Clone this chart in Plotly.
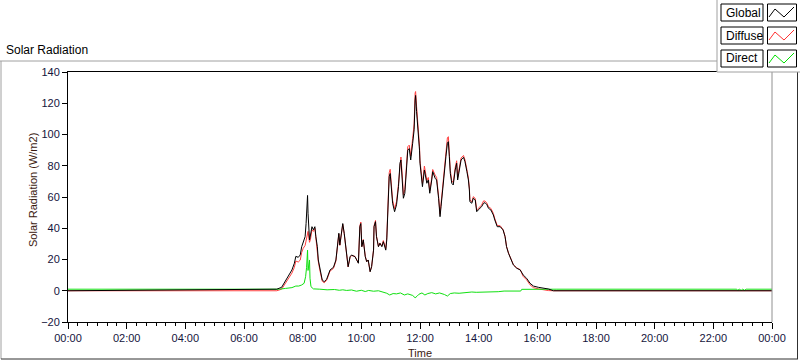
import plotly.graph_objects as go
from datetime import datetime, timedelta

# ---------------- data ----------------
global_times = ["00:00", "07:07", "07:17", "07:24", "07:31", "07:38", "07:43", "07:46", "07:51", "07:55",
                "07:58", "08:01", "08:05", "08:07", "08:09", "08:10", "08:11", "08:14", "08:16", "08:19",
                "08:22", "08:25", "08:27", "08:30", "08:32", "08:35", "08:40", "08:44", "08:49", "08:56",
                "09:03", "09:08", "09:12", "09:14", "09:16", "09:22", "09:25", "09:27", "09:30", "09:33",
                "09:37", "09:40", "09:47", "09:54", "09:57", "09:59", "10:01", "10:04", "10:08", "10:11",
                "10:14", "10:18", "10:21", "10:25", "10:26", "10:29", "10:31", "10:35", "10:38", "10:42",
                "10:45", "10:50", "10:52", "10:54", "10:57", "10:59", "11:02", "11:04", "11:08", "11:12",
                "11:16", "11:19", "11:21", "11:24", "11:26", "11:29", "11:33", "11:35", "11:38", "11:41",
                "11:45", "11:48", "11:50", "11:51", "11:53", "11:55", "11:57", "11:59", "12:00", "12:04",
                "12:05", "12:09", "12:12", "12:14", "12:17", "12:20", "12:24", "12:26", "12:31", "12:34",
                "12:38", "12:41", "12:43", "12:46", "12:50", "12:53", "12:56", "12:58", "13:00", "13:02",
                "13:05", "13:08", "13:12", "13:15", "13:17", "13:20", "13:24", "13:29", "13:32", "13:36",
                "13:39", "13:41", "13:42", "13:46", "13:49", "13:53", "13:56", "13:59", "14:03", "14:06",
                "14:10", "14:13", "14:17", "14:20", "14:25", "14:30", "14:33", "14:38", "14:44", "14:47",
                "14:50", "14:54", "14:57", "15:01", "15:05", "15:11", "15:18", "15:25", "15:31", "15:38",
                "15:45", "15:52", "16:02", "16:12", "16:23", "16:33", "24:00"]

global_vals = [0, 1, 2.2, 5.8, 9, 13.3, 17.6, 22, 21.4, 22.9,
               28.2, 31.4, 34.6, 43, 51.7, 61, 49.6, 32.5, 35.7, 41,
               39, 41, 34.6, 28.2, 19.7, 14.4, 6.9, 5.8, 7.3, 13.3,
               15, 19.7, 32.5, 36.8, 29.3, 43, 36.8, 30.4, 24, 15.4,
               21.8, 22.9, 21.8, 17.6, 41, 43, 28.2, 32.5, 21.8, 18.6,
               19.7, 12.2, 15.4, 26, 41, 44.2, 34.6, 28.2, 30.4, 28.2,
               31.4, 26, 32.5, 51.7, 73, 75, 64.5, 56, 50.6, 55,
               66.6, 81.6, 83.7, 70.9, 59.2, 62.4, 77.3, 90, 91, 83.7,
               94.4, 103, 122, 125, 114.6, 107, 100, 90, 81.6, 70.9,
               66.6, 77.3, 73, 68.8, 70.9, 62.4, 70.9, 76.2, 72, 70.9,
               59.2, 47.4, 53.8, 64.5, 75.2, 85.8, 94.4, 95.4, 85.8, 75.2,
               68.8, 67.7, 77.3, 81.6, 70.9, 77.3, 83.7, 85.4, 82.6, 76.2,
               70.9, 64.5, 57, 56, 59.2, 58.1, 50.6, 51.7, 52.8, 53.8,
               56, 56.4, 55, 52.8, 51.7, 48.5, 45.3, 41, 41, 40,
               38.9, 34.6, 28.2, 24, 20.8, 16.5, 14.4, 13.3, 10.1, 8,
               4.8, 3, 2.2, 1.6, 1.1, 0, 0]

diffuse_times = global_times
diffuse_vals = [0, 0, 1.0, 4.3, 7.2, 11.3, 15, 19, 18.4, 19.6,
                24.5, 27.1, 29, 33, 36, 37, 38, 31, 33, 39,
                38, 40, 33.6, 27.2, 18.7, 13.4, 6.1, 5.1, 6.6, 12.6,
                14.3, 19, 32, 36.4, 29, 42.5, 36.4, 30.1, 23.8, 15.2,
                21.5, 22.5, 22, 17.8, 41.5, 44, 28.2, 32.8, 22.3, 18.6,
                19.6, 12.3, 15.4, 26.3, 41.5, 45, 35, 28.3, 30.6, 28.6,
                32.1, 27, 34, 53.6, 75.5, 77.7, 66.6, 57.9, 52.5, 57,
                68.4, 83.2, 85.6, 72.8, 61.5, 64.8, 79.6, 92.2, 93.2, 86.2,
                97.4, 106.8, 126.5, 127.5, 118, 110, 103, 92.5, 83.2, 72.3,
                68.6, 79.8, 75, 70.6, 72.5, 63.8, 72.1, 77.6, 74, 72.5,
                60.6, 49, 55.6, 66.5, 77.6, 88.6, 97.8, 98.6, 88, 77,
                70.4, 69.2, 78.8, 83.2, 72.4, 78.9, 85, 86.6, 83.8, 77.4,
                72.1, 65.7, 58.2, 56.8, 60.2, 59.1, 51.6, 52.7, 53.8, 54.8,
                57.5, 57.4, 56, 53.8, 52.7, 49.5, 46.2, 41.7, 41.6, 40.6,
                39.1, 34.8, 28.4, 24.2, 21, 16.7, 14.6, 13.5, 9.2, 7,
                3.8, 2, 1.2, 0.6, 0.1, 0, 0]

direct_times = ["00:00", "07:12", "07:25", "07:38", "07:46", "07:52", "07:58", "08:03", "08:06", "08:08",
                "08:10", "08:11", "08:14", "08:15", "08:17", "08:22", "08:35", "08:50", "09:05", "09:15",
                "09:22", "09:30", "09:40", "09:50", "10:00", "10:08", "10:15", "10:25", "10:35", "10:45",
                "10:52", "10:58", "11:05", "11:12", "11:20", "11:28", "11:35", "11:45", "11:50", "11:54",
                "11:58", "12:04", "12:10", "12:16", "12:24", "12:32", "12:40", "12:50", "12:56", "13:02",
                "13:10", "13:20", "13:30", "13:40", "13:46", "13:55", "14:30", "14:40", "14:52", "15:26",
                "15:28", "16:40", "22:48", "22:50", "22:53", "22:57", "23:00", "23:04", "23:07", "24:00"]

direct_vals = [1, 1, 1.5, 2, 3, 3, 3.7, 4.8, 9, 15,
               26, 13, 19.7, 8, 2.6, 1.2, 1.0, 0.6, 0.8, 0.3,
               0.6, 0.2, 0.5, -0.3, 0.3, -0.5, 0.2, -0.3, 0.0, -0.7,
               -1.6, -2.7, -1.8, -2.0, -1.4, -2.7, -2.0, -3.0, -4.5, -3.5,
               -2.2, -1.4, -2.7, -1.8, -1.2, -2.0, -1.4, -2.4, -3.4, -1.8,
               -1.4, -1.6, -1.2, -1.2, -0.8, -1.0, -1.0, -0.6, -0.2, -0.2,
               0.9, 1, 1, 0.3, 1, 0.3, 1, 0.3, 1, 1]

y_ticks = [-20, 0, 20, 40, 60, 80, 100, 120, 140]

# ---------------- helpers ----------------
BASE = datetime(2024, 1, 1)


def to_dt(hm):
    h, m = map(int, hm.split(":"))
    return BASE + timedelta(hours=h, minutes=m)


W, H = 800, 361
L, R, T, B = 68, 28, 72, 39
PW, PH = W - L - R, H - T - B


def px(x):
    return (x - L) / PW


def py(y):
    return (H - B - y) / PH


FONT = "Liberation Sans"
TXT = "#14143c"

fig = go.Figure()
fig.add_trace(go.Scatter(x=[to_dt(t) for t in diffuse_times], y=diffuse_vals, mode="lines",
                         name="Diffuse", line=dict(color="#ff4040", width=1)))
fig.add_trace(go.Scatter(x=[to_dt(t) for t in direct_times], y=direct_vals, mode="lines",
                         name="Direct", line=dict(color="#10e010", width=1)))
fig.add_trace(go.Scatter(x=[to_dt(t) for t in global_times], y=global_vals, mode="lines",
                         name="Global", line=dict(color="#000000", width=1)))

fig.update_layout(
    width=W, height=H,
    margin=dict(l=L, r=R, t=T, b=B, pad=0),
    paper_bgcolor="white", plot_bgcolor="white",
    showlegend=False,
    font=dict(family=FONT, size=11, color=TXT),
    xaxis=dict(
        type="date",
        range=[BASE, BASE + timedelta(hours=24)],
        tick0=BASE, dtick=2 * 3600 * 1000, tickformat="%H:%M",
        ticks="outside", ticklen=6, tickcolor="black", tickwidth=1,
        minor=dict(dtick=20 * 60 * 1000, ticks="outside", ticklen=3, tickcolor="black", tickwidth=1),
        showline=True, linecolor="black", linewidth=1, mirror=True,
        showgrid=False, zeroline=False,
        tickfont=dict(family=FONT, size=11, color=TXT),
    ),
    yaxis=dict(
        range=[-20, 140], tickvals=y_ticks,
        ticks="outside", ticklen=5, tickcolor="black", tickwidth=1,
        showline=True, linecolor="black", linewidth=1,
        showgrid=False, zeroline=False,
        tickfont=dict(family=FONT, size=11, color=TXT),
    ),
)

shapes = []
# outer frame
shapes.append(dict(type="line", xref="paper", yref="paper", x0=px(0), x1=px(717), y0=py(61), y1=py(61),
                   line=dict(color="#a0a0a0", width=1)))
shapes.append(dict(type="line", xref="paper", yref="paper", x0=px(1), x1=px(1), y0=py(61), y1=py(359),
                   line=dict(color="#a0a0a0", width=1)))
shapes.append(dict(type="line", xref="paper", yref="paper", x0=px(1), x1=px(798), y0=py(359), y1=py(359),
                   line=dict(color="#303030", width=1)))
shapes.append(dict(type="line", xref="paper", yref="paper", x0=px(797.5), x1=px(797.5), y0=py(72), y1=py(359),
                   line=dict(color="#303030", width=1)))
# right edge of plot area (grey)
shapes.append(dict(type="line", xref="paper", yref="paper", x0=1, x1=1, y0=0, y1=1,
                   line=dict(color="#909090", width=1)))
# legend panel
shapes.append(dict(type="rect", xref="paper", yref="paper", x0=px(717), x1=px(801), y0=py(72), y1=py(-1),
                   fillcolor="white", line=dict(color="#a0a0a0", width=1), layer="above"))

legend_rows = [("Global", "#000000", 4), ("Diffuse", "#ff3030", 27), ("Direct", "#00e000", 50)]
annotations = []
for name, col, top in legend_rows:
    shapes.append(dict(type="rect", xref="paper", yref="paper", x0=px(721), x1=px(763), y0=py(top + 17),
                       y1=py(top), line=dict(color="black", width=1), fillcolor="white", layer="above"))
    shapes.append(dict(type="rect", xref="paper", yref="paper", x0=px(767.5), x1=px(796.5), y0=py(top + 17),
                       y1=py(top), line=dict(color="black", width=1), fillcolor="white", layer="above"))
    zz = [(769, top + 13), (775, top + 5), (784, top + 13), (794, top + 3)]
    path = "M " + " L ".join(f"{px(a):.5f},{py(b):.5f}" for a, b in zz)
    shapes.append(dict(type="path", xref="paper", yref="paper", path=path,
                       line=dict(color=col, width=1), layer="above"))
    annotations.append(dict(text=name, xref="paper", yref="paper", x=px(723.5), y=py(top + 8.5),
                            xanchor="left", yanchor="middle", showarrow=False,
                            font=dict(family=FONT, size=12, color="black")))

annotations.append(dict(text="Solar Radiation", xref="paper", yref="paper", x=px(4), y=py(50),
                        xanchor="left", yanchor="middle", showarrow=False,
                        font=dict(family=FONT, size=12, color="black")))
annotations.append(dict(text="Solar Radiation (W/m2)", xref="paper", yref="paper", x=px(33), y=py(190),
                        xanchor="center", yanchor="middle", textangle=-90, showarrow=False,
                        font=dict(family=FONT, size=11, color="#3a1a10")))
annotations.append(dict(text="Time", xref="paper", yref="paper", x=px(420), y=py(353),
                        xanchor="center", yanchor="middle", showarrow=False,
                        font=dict(family=FONT, size=11, color="#3a1a10")))

fig.update_layout(shapes=shapes, annotations=annotations)
fig.write_html("out.html",
               config={"displayModeBar": False},
               post_script="document.body.style.margin='0';document.body.style.padding='0';"
                           "document.body.style.overflow='hidden';")
